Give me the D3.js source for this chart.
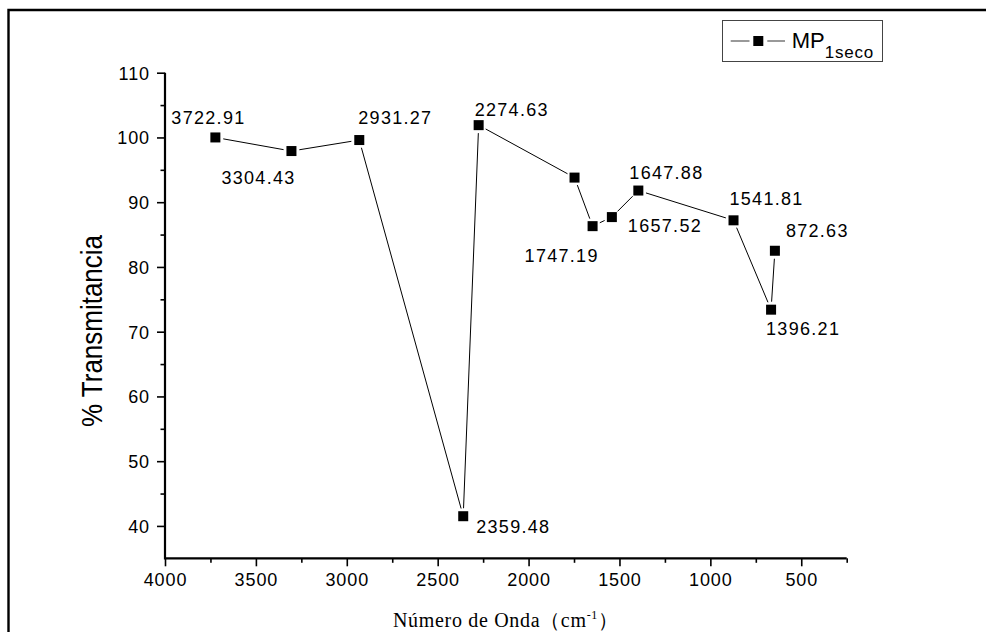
<!DOCTYPE html>
<html>
<head>
<meta charset="utf-8">
<script src="https://cdn.jsdelivr.net/npm/d3@7"></script>
<style>
  html, body { margin: 0; padding: 0; background: #fff; }
  svg { display: block; }
</style>
</head>
<body>
<svg id="chart" width="986" height="632"></svg>
<script>
// FTIR spectrum points: wavenumber (cm-1) and % transmittance
const wavenumbers   = [3722.91, 3304.43, 2931.27, 2359.48, 2274.63, 1747.19, 1647.88, 1541.81, 1396.21, 872.63, 666, 645];
const transmittance = [100.0, 97.9, 99.6, 41.5, 101.9, 93.8, 86.3, 87.7, 91.8, 87.2, 73.4, 82.5];

// Peak annotations and the point each one sits beside
const peakLabels     = ["3722.91", "3304.43", "2931.27", "2359.48", "2274.63", "1747.19", "1657.52", "1647.88", "1541.81", "1396.21", "872.63"];
const peakLabelPoint = [0, 1, 2, 3, 4, 6, 7, 8, 9, 10, 11];

// Axis ticks
const xMajorTicks = [4000, 3500, 3000, 2500, 2000, 1500, 1000, 500];
const xMinorTicks = [3750, 3250, 2750, 2250, 1750, 1250, 750, 250];
const yMajorTicks = [40, 50, 60, 70, 80, 90, 100, 110];
const yMinorTicks = [45, 55, 65, 75, 85, 95, 105];

const seriesName = "MP";
const seriesSub = "1seco";

// Label placement (pixel offsets from the point centre)
const labelOffsets = [
  [-44, -13], [-70, 33], [-1, -16], [13, 17], [-4, -9],
  [-68, 36], [16, 15], [-9, -12], [-4, -15], [-5, 25], [11, -14]
];

const svg = d3.select("#chart");
const sans = "Arial, 'Liberation Sans', Helvetica, sans-serif";
const serif = "'Times New Roman', 'Liberation Serif', serif";

const plot = { left: 165, right: 846.7, top: 72.7, bottom: 558.3 };

const x = d3.scaleLinear().domain([4000, 250]).range([plot.left, plot.right]);
const y = d3.scaleLinear().domain([35, 110]).range([plot.bottom, plot.top]);

// outer frame (top and left edges)
svg.append("path")
  .attr("d", `M8.5,640 L8.5,10 L990,10`)
  .attr("fill", "none")
  .attr("stroke", "#000")
  .attr("stroke-width", 2.4);

// ---- Axes ----
const gx = svg.append("g").attr("transform", `translate(0,${plot.bottom})`);
gx.call(d3.axisBottom(x).tickValues(xMajorTicks).tickSize(8).tickPadding(6).tickFormat(d3.format("d")))
  .call(g => g.select(".domain").remove());
gx.selectAll(".tick line").attr("stroke", "#000").attr("stroke-width", 1.6);
gx.selectAll(".tick text")
  .attr("font-family", sans).attr("font-size", 18).attr("fill", "#000")
  .attr("letter-spacing", "0.9px").attr("dy", "0.74em");
const gxm = svg.append("g").attr("transform", `translate(0,${plot.bottom})`);
gxm.call(d3.axisBottom(x).tickValues(xMinorTicks).tickSize(4.5).tickFormat(""))
  .call(g => g.select(".domain").remove());
gxm.selectAll(".tick line").attr("stroke", "#000").attr("stroke-width", 1.6);

const gy = svg.append("g").attr("transform", `translate(${plot.left},0)`);
gy.call(d3.axisLeft(y).tickValues(yMajorTicks).tickSize(8).tickPadding(7))
  .call(g => g.select(".domain").remove());
gy.selectAll(".tick line").attr("stroke", "#000").attr("stroke-width", 1.6);
gy.selectAll(".tick text")
  .attr("font-family", sans).attr("font-size", 18).attr("fill", "#000")
  .attr("letter-spacing", "0.9px").attr("dy", "0.36em");
const gym = svg.append("g").attr("transform", `translate(${plot.left},0)`);
gym.call(d3.axisLeft(y).tickValues(yMinorTicks).tickSize(4.5).tickFormat(""))
  .call(g => g.select(".domain").remove());
gym.selectAll(".tick line").attr("stroke", "#000").attr("stroke-width", 1.6);

// axis lines
svg.append("path")
  .attr("d", `M${plot.left},${plot.top} L${plot.left},${plot.bottom} L${plot.right},${plot.bottom}`)
  .attr("fill", "none").attr("stroke", "#000").attr("stroke-width", 2.2);

// ---- Series ----
const pts = wavenumbers.map((w, i) => ({ px: x(w), py: y(transmittance[i]) }));
const gap = 8;
const segs = d3.pairs(pts).map(([a, b]) => {
  const dx = b.px - a.px, dy = b.py - a.py;
  const len = Math.hypot(dx, dy);
  const ux = dx / len, uy = dy / len;
  return { x1: a.px + ux * gap, y1: a.py + uy * gap, x2: b.px - ux * gap, y2: b.py - uy * gap };
});
svg.append("g").selectAll("line").data(segs).join("line")
  .attr("x1", d => d.x1).attr("y1", d => d.y1)
  .attr("x2", d => d.x2).attr("y2", d => d.y2)
  .attr("stroke", "#000").attr("stroke-width", 1);

const m = 10;
svg.append("g").selectAll("rect").data(pts).join("rect")
  .attr("x", d => d.px - m / 2).attr("y", d => d.py - m / 2)
  .attr("width", m).attr("height", m).attr("fill", "#000");

// peak annotations
svg.append("g").selectAll("text").data(peakLabels).join("text")
  .attr("x", (d, i) => pts[peakLabelPoint[i]].px + labelOffsets[i][0])
  .attr("y", (d, i) => pts[peakLabelPoint[i]].py + labelOffsets[i][1])
  .attr("font-family", sans).attr("font-size", 18).attr("letter-spacing", "1.3px")
  .attr("fill", "#000")
  .text(d => d);

// ---- Axis titles ----
svg.append("text")
  .attr("transform", `translate(102,331) rotate(-90)`)
  .attr("text-anchor", "middle")
  .attr("font-family", sans).attr("font-size", 29)
  .attr("textLength", 192).attr("lengthAdjust", "spacingAndGlyphs")
  .attr("fill", "#000")
  .text("% Transmitancia");

const xt = svg.append("text")
  .attr("x", 393).attr("y", 627)
  .attr("font-family", serif).attr("font-size", 20).attr("fill", "#000")
  .attr("textLength", 225).attr("lengthAdjust", "spacing");
xt.append("tspan").text("Número de Onda（cm");
xt.append("tspan").attr("font-size", 12).attr("dy", -8).text("-1");
xt.append("tspan").attr("dy", 8).text("）");

// ---- Legend ----
const lg = svg.append("g");
lg.append("rect")
  .attr("x", 722.5).attr("y", 20.5).attr("width", 160).attr("height", 41)
  .attr("fill", "#fff").attr("stroke", "#444").attr("stroke-width", 1);
lg.append("line").attr("x1", 730.7).attr("x2", 749.5).attr("y1", 41).attr("y2", 41)
  .attr("stroke", "#555").attr("stroke-width", 1.2);
lg.append("line").attr("x1", 767.3).attr("x2", 785).attr("y1", 41).attr("y2", 41)
  .attr("stroke", "#555").attr("stroke-width", 1.2);
lg.append("rect").attr("x", 758.3 - m / 2).attr("y", 41 - m / 2)
  .attr("width", m).attr("height", m).attr("fill", "#000");
const lt = lg.append("text")
  .attr("x", 791.7).attr("y", 48.3)
  .attr("font-family", sans).attr("font-size", 22).attr("fill", "#000");
lt.append("tspan").text(seriesName);
lt.append("tspan").attr("font-size", 17).attr("dy", 10).attr("letter-spacing", "0.8px").text(seriesSub);
</script>
</body>
</html>
